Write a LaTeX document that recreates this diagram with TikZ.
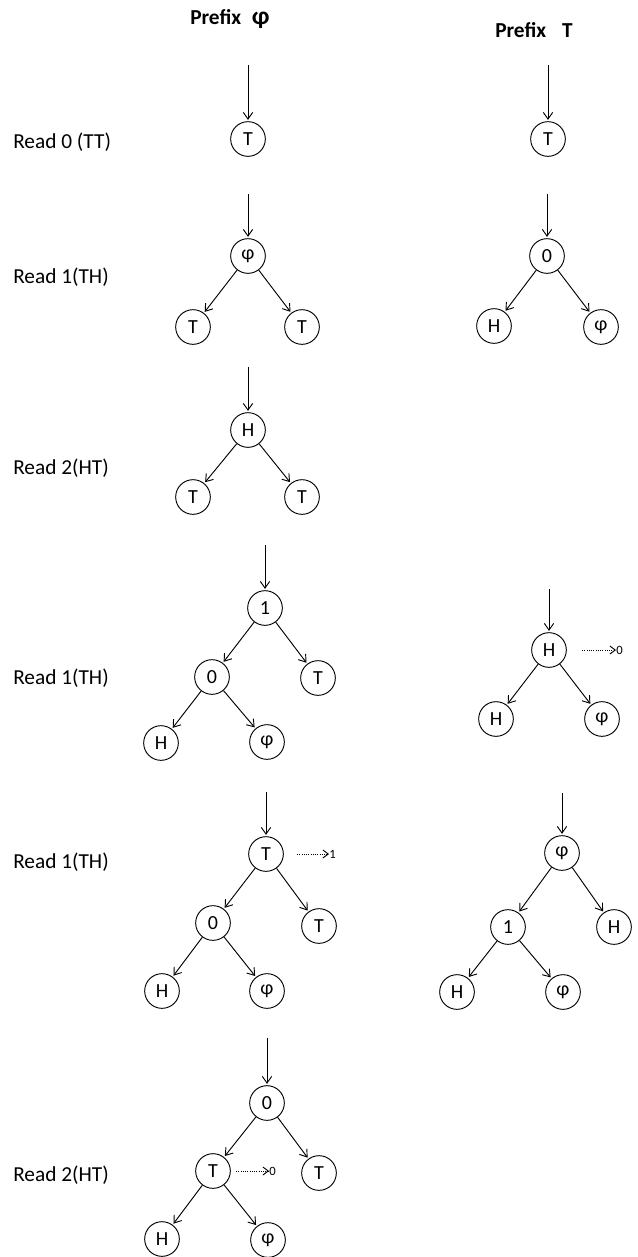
\documentclass[tikz,border=0pt]{standalone}
\usepackage{fontspec}
\setmainfont{Carlito}
\usetikzlibrary{arrows.meta}
\begin{document}
\begin{tikzpicture}[x=0.75pt,y=-0.75pt,
  nd/.style={draw,circle,line width=0.7pt,minimum size=26pt,inner sep=0pt,font=\fontsize{15}{15}\selectfont},
  lbl/.style={anchor=west,inner sep=0pt,font=\fontsize{16}{16}\selectfont},
  hdr/.style={anchor=west,inner sep=0pt,font=\bfseries\fontsize{16}{16}\selectfont},
  sml/.style={anchor=west,inner sep=0pt,font=\fontsize{9.5}{9.5}\selectfont},
  edge/.style={line width=0.7pt,-{Straight Barb[length=5pt,width=7pt]},shorten >=1pt},
  dotarr/.style={line width=0.7pt,densely dotted,-{Straight Barb[length=4pt,width=6pt]}}]
\useasboundingbox (0,0) rectangle (638,1257);
% headers
\node[hdr] (h1) at (190,19) {Prefix\hspace{8pt}{\fontsize{19}{19}\selectfont φ}};
\node[hdr] (h2) at (495,30) {Prefix\hspace{12pt}T};
% row labels
\node[lbl] (r1) at (13,142) {Read 0 (TT)};
\node[lbl] (r2) at (13,277) {Read 1(TH)};
\node[lbl] (r3) at (13,468) {Read 2(HT)};
\node[lbl] (r4) at (13,678) {Read 1(TH)};
\node[lbl] (r5) at (13,862) {Read 1(TH)};
\node[lbl] (r6) at (13,1175) {Read 2(HT)};
% row 1
\coordinate (s1l) at (248,65);
\node[nd] (a1) at (248,139) {T};
\draw[edge] (s1l) -- (a1);
\coordinate (s1r) at (548,65);
\node[nd] (b1) at (548,139) {T};
\draw[edge] (s1r) -- (b1);
% row 2
\coordinate (s2l) at (248,194);
\node[nd] (a2) at (248,256) {φ};
\node[nd] (a2l) at (193,327) {T};
\node[nd] (a2r) at (302,327) {T};
\draw[edge] (s2l) -- (a2);
\draw[edge] (a2) -- (a2l);
\draw[edge] (a2) -- (a2r);
\coordinate (s2r) at (547,194);
\node[nd] (b2) at (547,256) {0};
\node[nd] (b2l) at (494,326) {H};
\node[nd] (b2r) at (601,327) {φ};
\draw[edge] (s2r) -- (b2);
\draw[edge] (b2) -- (b2l);
\draw[edge] (b2) -- (b2r);
% row 3
\coordinate (s3l) at (248,367);
\node[nd] (a3) at (248,430) {H};
\node[nd] (a3l) at (193,497) {T};
\node[nd] (a3r) at (302,497) {T};
\draw[edge] (s3l) -- (a3);
\draw[edge] (a3) -- (a3l);
\draw[edge] (a3) -- (a3r);
% row 4 left
\coordinate (s4l) at (265,545);
\node[nd] (a4) at (265,608) {1};
\node[nd] (a4l) at (212,677) {0};
\node[nd] (a4r) at (318,678) {T};
\node[nd] (a4ll) at (161,743) {H};
\node[nd] (a4lr) at (267,742) {φ};
\draw[edge] (s4l) -- (a4);
\draw[edge] (a4) -- (a4l);
\draw[edge] (a4) -- (a4r);
\draw[edge] (a4l) -- (a4ll);
\draw[edge] (a4l) -- (a4lr);
% row 4 right
\coordinate (s4r) at (549,589);
\node[nd] (b4) at (549,650) {H};
\node[nd] (b4l) at (496,719) {H};
\node[nd] (b4r) at (602,719) {φ};
\draw[edge] (s4r) -- (b4);
\draw[edge] (b4) -- (b4l);
\draw[edge] (b4) -- (b4r);
\coordinate (d4a) at (582,650);
\node[sml] (d4l) at (616,650) {0};
\draw[dotarr] (d4a) -- (d4l.west);
% row 5 left
\coordinate (s5l) at (266,792);
\node[nd] (a5) at (266,854) {T};
\node[nd] (a5l) at (213,923) {0};
\node[nd] (a5r) at (319,926) {T};
\node[nd] (a5ll) at (162,991) {H};
\node[nd] (a5lr) at (267,991) {φ};
\draw[edge] (s5l) -- (a5);
\draw[edge] (a5) -- (a5l);
\draw[edge] (a5) -- (a5r);
\draw[edge] (a5l) -- (a5ll);
\draw[edge] (a5l) -- (a5lr);
\coordinate (d5a) at (297,854);
\node[sml] (d5l) at (329,854) {1};
\draw[dotarr] (d5a) -- (d5l.west);
% row 5 right
\coordinate (s5r) at (562,793);
\node[nd] (b5) at (562,853) {φ};
\node[nd] (b5l) at (508,927) {1};
\node[nd] (b5r) at (614,927) {H};
\node[nd] (b5ll) at (457,992) {H};
\node[nd] (b5lr) at (563,992) {φ};
\draw[edge] (s5r) -- (b5);
\draw[edge] (b5) -- (b5l);
\draw[edge] (b5) -- (b5r);
\draw[edge] (b5l) -- (b5ll);
\draw[edge] (b5l) -- (b5lr);
% row 6
\coordinate (s6l) at (267,1038);
\node[nd] (a6) at (267,1103) {0};
\node[nd] (a6l) at (213,1171) {T};
\node[nd] (a6r) at (319,1173) {T};
\node[nd] (a6ll) at (162,1239) {H};
\node[nd] (a6lr) at (268,1240) {φ};
\draw[edge] (s6l) -- (a6);
\draw[edge] (a6) -- (a6l);
\draw[edge] (a6) -- (a6r);
\draw[edge] (a6l) -- (a6ll);
\draw[edge] (a6l) -- (a6lr);
\coordinate (d6a) at (236,1171);
\node[sml] (d6l) at (269,1171) {0};
\draw[dotarr] (d6a) -- (d6l.west);
\end{tikzpicture}
\end{document}
